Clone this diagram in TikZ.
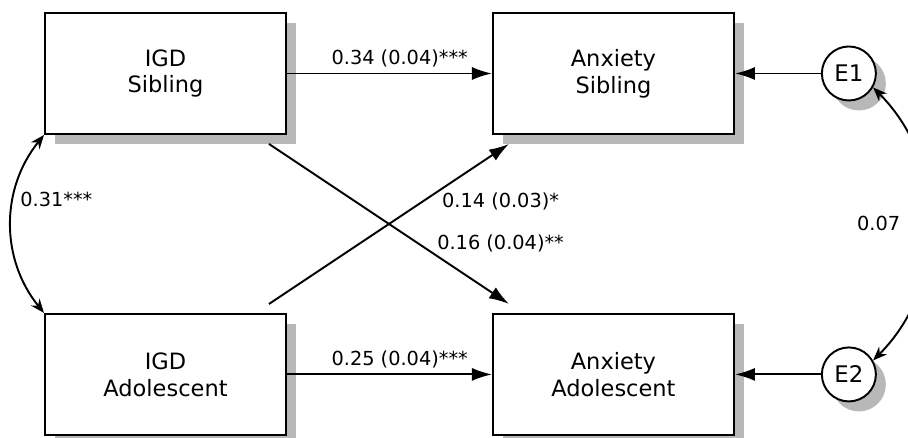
\documentclass[tikz,border=0pt]{standalone}
\usepackage{fontspec}
\setmainfont{DejaVu Sans}
\usetikzlibrary{arrows.meta,positioning,calc,shadows}
\tikzset{
  observed/.style={draw,line width=1.1pt,fill=white,minimum width=4.82cm,
    minimum height=2.42cm,align=center,font=\fontsize{12.8}{15.3}\selectfont,
    drop shadow={shadow xshift=0.2cm,shadow yshift=-0.2cm,fill=black!28,opacity=1}},
  flow/.style={-{Latex[length=4mm,width=2.6mm]},line width=1.1pt},
  covariance/.style={{Stealth[length=2.8mm,width=2.2mm]}-{Stealth[length=2.8mm,width=2.2mm]},line width=1.1pt},
  coef/.style={font=\fontsize{11}{13}\selectfont}
}

\begin{document}
\begin{tikzpicture}[
  residual/.style={circle,draw,line width=1.1pt,fill=white,minimum size=1.08cm,
    inner sep=0pt,font=\fontsize{13}{15}\selectfont,
    drop shadow={shadow xshift=0.2cm,shadow yshift=-0.2cm,fill=black!28,opacity=1}}
]
  \useasboundingbox (0,0) rectangle (18.16,8.76);
  \node[observed] (igdsibling) at (3.31,7.29) {IGD\\Sibling};
  \node[observed,below=3.56cm of igdsibling] (igdadolescent) {IGD\\Adolescent};
  \node[observed,right=4.1cm of igdsibling] (anxsibling) {Anxiety\\Sibling};
  \node[observed,right=4.1cm of igdadolescent] (anxadolescent) {Anxiety\\Adolescent};
  \node[residual,right=1.72cm of anxsibling] (errone) {E1};
  \node[residual,right=1.72cm of anxadolescent] (errtwo) {E2};
  % ends of the crossing paths
  \coordinate (sibstart) at ($(igdsibling.south east)+(-0.36,-0.18)$);
  \coordinate (adostart) at ($(igdadolescent.north east)+(-0.36,0.18)$);
  \coordinate (anxadoend) at ($(anxadolescent.north west)+(0.34,0.18)$);
  \coordinate (anxsibend) at ($(anxsibling.south west)+(0.34,-0.18)$);
  \draw[flow] (igdsibling) -- node[coef,pos=0.55,above] {0.34 (0.04)***} (anxsibling);
  \draw[flow] (igdadolescent) -- node[coef,pos=0.55,above] {0.25 (0.04)***} (anxadolescent);
  \draw[flow] (sibstart) -- node[coef,pos=0.69,anchor=south west,inner sep=1pt] {0.16 (0.04)**} (anxadoend);
  \draw[flow] (adostart) -- node[coef,pos=0.71,anchor=north west,inner sep=1pt] {0.14 (0.03)*} (anxsibend);
  \draw[flow] (errone) -- (anxsibling);
  \draw[flow] (errtwo) -- (anxadolescent);
  \draw[covariance] (igdsibling.south west) to[bend right=39]
    node[coef,pos=0.37,anchor=west] {0.31***} (igdadolescent.north west);
  \draw[covariance] (errone.-30) to[bend left=45]
    node[coef,midway,left=0.45cm] {0.07} (errtwo.30);
\end{tikzpicture}
\end{document}
